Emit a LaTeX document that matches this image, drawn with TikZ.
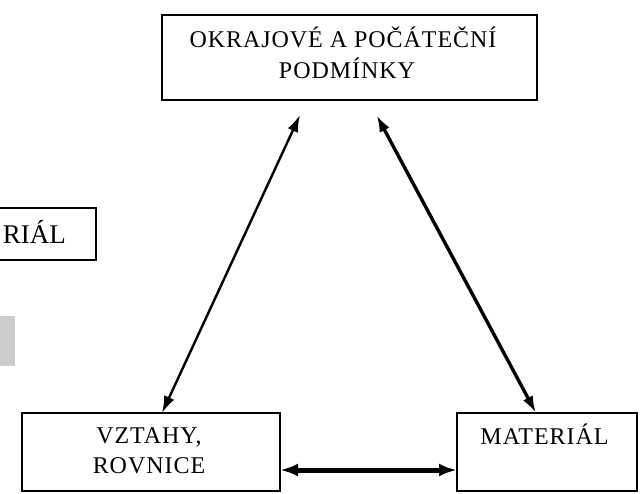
\documentclass[tikz,border=0pt]{standalone}
\usepackage{fontspec}
\setmainfont{Liberation Serif}
\newfontfamily\spaced[LetterSpace=4]{Liberation Serif}
\usetikzlibrary{arrows.meta}
\begin{document}
\begin{tikzpicture}[x=1pt,y=-1pt,
  boxstyle/.style={draw=black,line width=1.4pt,fill=white,inner sep=0pt,outer sep=0pt},
  lbl/.style={inner sep=0pt,anchor=base,font=\spaced\fontsize{24}{24}\selectfont},
  darr/.style={line width=#1,{Latex[length=17pt,width=11pt]}-{Latex[length=17pt,width=11pt]}},
  harr/.style={line width=5pt,{Latex[length=18pt,width=13pt]}-{Latex[length=18pt,width=13pt]}}]
\useasboundingbox (0,0) rectangle (642,493);
\fill[white] (0,0) rectangle (642,493);
% partial box on the left
\draw[line width=1.4pt] (0,208) -- (96,208) -- (96,260) -- (0,260);
\node[inner sep=0pt,anchor=base east,font=\fontsize{27}{27}\selectfont] (rial) at (66,243) {RIÁL};
\fill[black!20] (0,316) rectangle (15,366);
% boxes
\node[boxstyle,line width=1.8pt,minimum width=375pt,minimum height=85pt] (top) at (349.5,57.5) {};
\node[boxstyle,minimum width=258pt,minimum height=78pt] (vz) at (151,452) {};
\node[boxstyle,minimum width=180pt,minimum height=78pt] (mat) at (547,452) {};
% texts
\node[lbl] (t1) at (343,47) {OKRAJOVÉ A POČÁTEČNÍ};
\node[lbl] (t2) at (347,78) {PODMÍNKY};
\node[lbl] (v1) at (149,443) {VZTAHY,};
\node[lbl] (v2) at (149,473) {ROVNICE};
\node[lbl] (m1) at (544.5,444) {MATERIÁL};
% connectors
\draw[darr=2.4pt] ([xshift=-49.5pt,yshift=-15pt]top.south) -- ([xshift=11pt]vz.north);
\draw[darr=3.4pt] ([xshift=27pt,yshift=-15pt]top.south) -- ([xshift=-11pt]mat.north);
\draw[harr] ([yshift=-18pt]vz.east) -- ([yshift=-18pt]mat.west);
\end{tikzpicture}
\end{document}
